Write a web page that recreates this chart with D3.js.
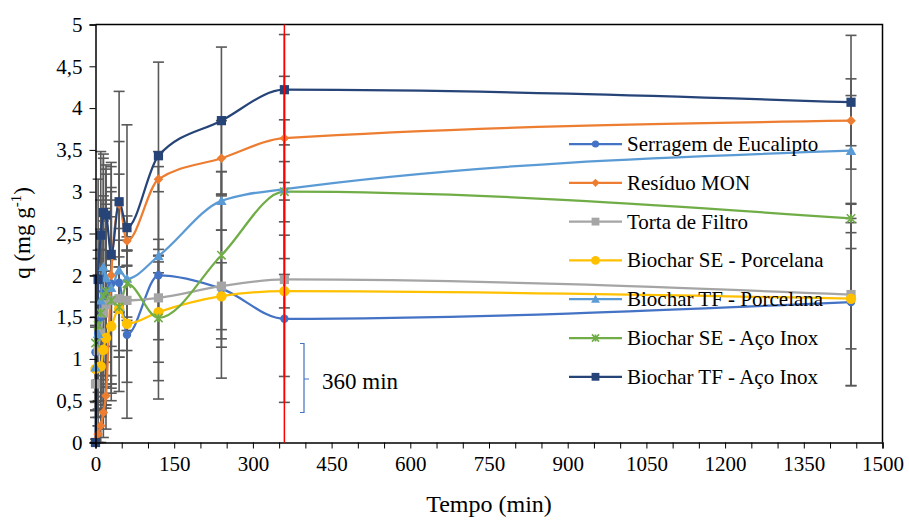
<!DOCTYPE html>
<html>
<head>
<meta charset="utf-8">
<script src="https://cdn.jsdelivr.net/npm/d3@7"></script>
<style>
  body { margin: 0; background: #fff; }
</style>
</head>
<body>
<svg id="chart" width="909" height="521" font-family="'Liberation Serif', 'Times New Roman', serif"></svg>
<script>
// Sampling times (min)
const times = [0, 5, 10, 15, 20, 30, 45, 60, 120, 240, 360, 1440];

// Adsorbed amount q (mg g-1) for each material, with standard deviations
const serragem    = [1.08, 1.30, 1.50, 1.65, 1.80, 1.90, 1.91, 1.29, 2.00, 1.84, 1.48, 1.68];
const serragemErr = [0.60, 0.70, 0.80, 0.90, 1.00, 1.10, 1.30, 1.00, 1.48, 0.70, 1.00, 1.00];

const residuo     = [0.02, 0.10, 0.20, 0.36, 0.56, 2.00, 2.85, 2.41, 3.15, 3.40, 3.64, 3.85];
const residuoErr  = [0.02, 0.10, 0.20, 0.30, 0.40, 1.30, 0.75, 0.30, 0.15, 0.45, 0.74, 0.30];

const torta       = [0.70, 1.10, 1.31, 1.55, 1.65, 1.70, 1.72, 1.70, 1.73, 1.87, 1.95, 1.77];
const tortaErr    = [0.70, 0.90, 1.00, 1.10, 1.20, 1.20, 0.70, 0.60, 0.50, 1.10, 1.16, 1.09];

const sePorcelanaVals = [0.88, 0.90, 0.91, 1.11, 1.25, 1.39, 1.60, 1.42, 1.56, 1.75, 1.81, 1.72];
const sePorcelanaErr  = [0.50, 0.60, 0.60, 0.70, 0.80, 0.80, 0.50, 0.70, 0.60, 0.40, 0.20, 0.60];

const tfPorcelanaVals = [0.90, 1.30, 1.70, 2.10, 1.97, 1.85, 2.06, 1.96, 2.23, 2.89, 3.03, 3.49];
const tfPorcelanaErr  = [0.60, 0.90, 1.20, 1.30, 1.30, 1.20, 0.50, 0.50, 0.20, 0.35, 0.83, 0.86];

const seInoxVals = [1.19, 1.40, 1.55, 1.75, 1.81, 1.70, 1.62, 1.90, 1.49, 2.24, 3.00, 2.68];
const seInoxErr  = [0.80, 0.90, 1.00, 1.20, 1.40, 1.00, 0.60, 0.40, 0.75, 1.00, 0.36, 0.17];

const tfInoxVals = [0.00, 1.95, 2.48, 2.75, 2.72, 2.25, 2.88, 2.57, 3.43, 3.85, 4.22, 4.07];
const tfInoxErr  = [0.00, 1.20, 1.00, 0.70, 0.60, 1.10, 1.32, 1.23, 1.12, 0.88, 0.66, 0.80];

const seriesNames = [
  "Serragem de Eucalipto", "Resíduo MON", "Torta de Filtro",
  "Biochar SE - Porcelana", "Biochar TF - Porcelana",
  "Biochar SE - Aço Inox", "Biochar TF - Aço Inox"
];
const seriesValues = [serragem, residuo, torta, sePorcelanaVals, tfPorcelanaVals, seInoxVals, tfInoxVals];
const seriesErrors = [serragemErr, residuoErr, tortaErr, sePorcelanaErr, tfPorcelanaErr, seInoxErr, tfInoxErr];
const seriesColors = ["#4472C4", "#ED7D31", "#A5A5A5", "#FFC000", "#5B9BD5", "#70AD47", "#264478"];
const seriesMarkers = ["circle", "diamond", "square", "bigcircle", "triangle", "star", "square"];

const xTickLabels = [0, 150, 300, 450, 600, 750, 900, 1050, 1200, 1350, 1500];
const yTickLabels = [0, 0.5, 1, 1.5, 2, 2.5, 3, 3.5, 4, 4.5, 5];
const markTime = 360;

const FONT = "'Liberation Serif', 'Times New Roman', serif";
const svg = d3.select("#chart");
const plotL = 95.5, plotR = 882.5, plotT = 24.5, plotB = 442.5;

const x = d3.scaleLinear().domain([0, 1500]).range([plotL, plotR]);
const y = d3.scaleLinear().domain([0, 5]).range([plotB, plotT]);

const series = seriesNames.map((name, i) => ({
  name,
  color: seriesColors[i],
  marker: seriesMarkers[i],
  points: times.map((t, j) => ({ t, v: seriesValues[i][j], e: seriesErrors[i][j] }))
}));

// Error bars
const errG = svg.append("g").attr("stroke", "#595959").attr("stroke-width", 1.6).attr("fill", "none");
series.forEach(s => {
  s.points.forEach(p => {
    if (p.e <= 0) return;
    const cx = x(p.t), y1 = y(p.v + p.e), y2 = y(Math.max(0, p.v - p.e));
    errG.append("line").attr("x1", cx).attr("x2", cx).attr("y1", y1).attr("y2", y2);
    errG.append("line").attr("x1", cx - 5.5).attr("x2", cx + 5.5).attr("y1", y1).attr("y2", y1);
    errG.append("line").attr("x1", cx - 5.5).attr("x2", cx + 5.5).attr("y1", y2).attr("y2", y2);
  });
});

// Smoothed lines
const line = d3.line().x(d => x(d.t)).y(d => y(d.v)).curve(d3.curveMonotoneX);
series.forEach(s => {
  svg.append("path").datum(s.points)
    .attr("d", line).attr("fill", "none")
    .attr("stroke", s.color).attr("stroke-width", 2.25);
});

function drawMarker(g, type, cx, cy, color, scale) {
  const k = scale || 1;
  if (type === "circle") {
    g.append("circle").attr("cx", cx).attr("cy", cy).attr("r", 4.2 * k).attr("fill", color);
  } else if (type === "bigcircle") {
    g.append("circle").attr("cx", cx).attr("cy", cy).attr("r", 5.2 * k).attr("fill", color);
  } else if (type === "square") {
    const h = 4.6 * k;
    g.append("rect").attr("x", cx - h).attr("y", cy - h).attr("width", 2 * h).attr("height", 2 * h).attr("fill", color);
  } else if (type === "diamond") {
    const h = 4.8 * k;
    g.append("path").attr("d", `M${cx},${cy - h}L${cx + h},${cy}L${cx},${cy + h}L${cx - h},${cy}Z`).attr("fill", color);
  } else if (type === "triangle") {
    const h = 5.2 * k;
    g.append("path").attr("d", `M${cx},${cy - h}L${cx + h},${cy + h * 0.8}L${cx - h},${cy + h * 0.8}Z`).attr("fill", color);
  } else if (type === "star") {
    const h = 4.2 * k;
    g.append("path")
      .attr("d", `M${cx - h},${cy - h}L${cx + h},${cy + h}M${cx - h},${cy + h}L${cx + h},${cy - h}M${cx},${cy - h}L${cx},${cy + h}`)
      .attr("stroke", color).attr("stroke-width", 1.6).attr("fill", "none");
  }
}

// Markers
series.forEach(s => {
  const g = svg.append("g");
  s.points.forEach(p => drawMarker(g, s.marker, x(p.t), y(p.v), s.color));
});

// Legend
const legend = svg.append("g");
series.forEach((s, i) => {
  const ly = 144 + i * 38.8;
  legend.append("line").attr("x1", 569).attr("x2", 622).attr("y1", ly).attr("y2", ly)
    .attr("stroke", s.color).attr("stroke-width", 2.25);
  drawMarker(legend, s.marker, 595.5, ly, s.color, 0.85);
  legend.append("text").attr("x", 627).attr("y", ly + 7).attr("font-size", 21)
    .attr("font-family", FONT).text(s.name);
});

// Axes
const xAxis = d3.axisBottom(x).tickValues(d3.range(0, 1501, 50)).tickSize(6)
  .tickFormat(d => xTickLabels.includes(d) ? d : "");
const gx = svg.append("g").attr("transform", `translate(0,${plotB})`).call(xAxis);
gx.attr("font-family", FONT).attr("font-size", 21);
gx.selectAll("text").attr("dy", "0.95em").attr("fill", "#000");

const yAxis = d3.axisLeft(y).tickValues(yTickLabels).tickSize(6)
  .tickFormat(d => String(d).replace(".", ","));
const gy = svg.append("g").attr("transform", `translate(${plotL},0)`).call(yAxis);
gy.attr("font-family", FONT).attr("font-size", 21);
gy.selectAll("text").attr("x", -13).attr("fill", "#000");

[gx, gy].forEach(g => {
  g.select(".domain").attr("stroke", "#000").attr("stroke-width", 1.5);
  g.selectAll(".tick line").attr("stroke", "#000").attr("stroke-width", 1);
});

// Plot frame (top and right edges)
svg.append("path").attr("d", `M${plotL},${plotT}H${plotR}V${plotB}`)
  .attr("fill", "none").attr("stroke", "#000").attr("stroke-width", 1.5);

// Equilibrium time marker
svg.append("line").attr("x1", x(markTime)).attr("x2", x(markTime)).attr("y1", plotT).attr("y2", plotB)
  .attr("stroke", "#FF0000").attr("stroke-width", 1.5);

// Bracket annotation
const bx = 304, by1 = 343.5, by2 = 412.5, bm = 379;
svg.append("path")
  .attr("d", `M${bx - 4},${by1}H${bx}V${by2}H${bx - 4}M${bx},${bm}H${bx + 5}`)
  .attr("fill", "none").attr("stroke", "#4472C4").attr("stroke-width", 1.2);
svg.append("text").attr("x", 322).attr("y", 389).attr("font-size", 23)
  .attr("font-family", FONT).text("360 min");

// Axis titles
svg.append("text").attr("x", 489).attr("y", 512).attr("text-anchor", "middle")
  .attr("font-size", 24).attr("font-family", FONT).text("Tempo (min)");
const yt = svg.append("text").attr("transform", "translate(30,233) rotate(-90)")
  .attr("text-anchor", "middle").attr("font-size", 23).attr("font-family", FONT);
yt.append("tspan").text("q (mg g");
yt.append("tspan").attr("font-size", 15).attr("dy", -9).text("-1");
yt.append("tspan").attr("dy", 9).text(")");
</script>
</body>
</html>
